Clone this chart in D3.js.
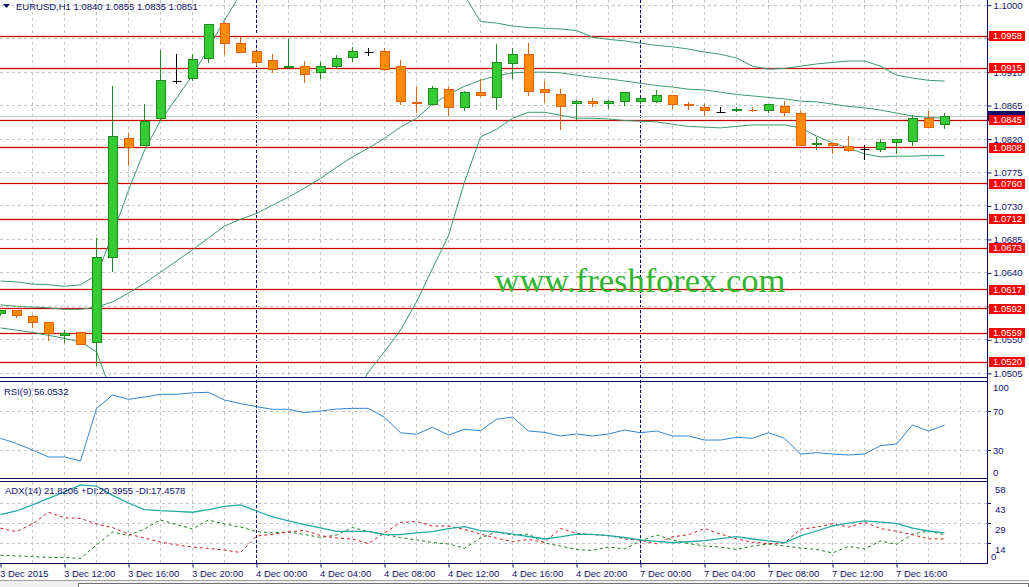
<!DOCTYPE html>
<html>
<head>
<meta charset="utf-8">
<script src="https://cdn.jsdelivr.net/npm/d3@7"></script>
<style>
html, body { margin: 0; padding: 0; background: #fff; overflow: hidden; }
svg { display: block; font-family: "Liberation Sans", Arial, sans-serif; }
</style>
</head>
<body>
<script>
// EURUSD H1 chart: candles + bollinger bands, RSI(9) and ADX(14) panes

(function(){

//bars from 3 Dec 08:00 to 7 Dec 19:00 (one per hour)
var openP = [1.0585,1.0589,1.0581,1.0573,1.0556,1.0560,1.0546,1.0661,1.0821,1.0812,
    1.0847,1.0898,1.0901,1.0929,1.0976,1.0949,1.0938,1.0926,1.0916,1.0918,
    1.0909,1.0917,1.0930,1.0937,1.0938,1.0917,1.0869,1.0867,1.0887,1.0863,
    1.0883,1.0876,1.0922,1.0934,1.0887,1.0880,1.0868,1.0871,1.0868,1.0871,
    1.0870,1.0871,1.0879,1.0867,1.0863,1.0856,1.0858,1.0859,1.0858,1.0864,
    1.0855,1.0813,1.0814,1.0810,1.0806,1.0806,1.0815,1.0817,1.0848,1.0840];
var highP = [1.0590,1.0589,1.0583,1.0574,1.0563,1.0560,1.0687,1.0891,1.0828,1.0867,
    1.0940,1.0934,1.0934,1.0974,1.0978,1.0957,1.0938,1.0935,1.0954,1.0925,
    1.0923,1.0933,1.0944,1.0942,1.0942,1.0926,1.0890,1.0892,1.0890,1.0884,
    1.0901,1.0948,1.0942,1.0949,1.0898,1.0887,1.0872,1.0875,1.0872,1.0883,
    1.0875,1.0886,1.0879,1.0870,1.0867,1.0863,1.0863,1.0863,1.0867,1.0871,
    1.0858,1.0823,1.0815,1.0824,1.0812,1.0820,1.0820,1.0852,1.0858,1.0855];
var lowP = [1.0583,1.0581,1.0567,1.0550,1.0547,1.0544,1.0516,1.0642,1.0785,1.0812,
    1.0845,1.0895,1.0899,1.0923,1.0935,1.0937,1.0919,1.0910,1.0916,1.0897,
    1.0902,1.0916,1.0925,1.0933,1.0913,1.0867,1.0856,1.0867,1.0852,1.0859,
    1.0878,1.0860,1.0902,1.0879,1.0870,1.0833,1.0847,1.0864,1.0862,1.0866,
    1.0868,1.0870,1.0862,1.0860,1.0852,1.0856,1.0858,1.0858,1.0856,1.0852,
    1.0812,1.0806,1.0801,1.0804,1.0793,1.0804,1.0801,1.0812,1.0836,1.0835];
var closeP = [1.0589,1.0583,1.0573,1.0558,1.0559,1.0544,1.0661,1.0823,1.0809,1.0844,
    1.0899,1.0898,1.0927,1.0974,1.0948,1.0937,1.0923,1.0914,1.0918,1.0907,
    1.0918,1.0929,1.0938,1.0937,1.0914,1.0871,1.0868,1.0888,1.0863,1.0883,
    1.0878,1.0923,1.0934,1.0884,1.0882,1.0864,1.0871,1.0868,1.0871,1.0882,
    1.0874,1.0879,1.0866,1.0865,1.0858,1.0856,1.0860,1.0858,1.0866,1.0856,
    1.0812,1.0814,1.0812,1.0804,1.0806,1.0816,1.0819,1.0847,1.0836,1.0851];

//bollinger bands
var bbUpper = [1.0629,1.0628,1.0625,1.0624,1.0622,1.0624,1.0637,1.0691,1.0751,1.0805,
    1.0845,1.0875,1.0906,1.0942,1.0980,1.1015,1.1030,1.1040,1.1046,1.1050,
    1.1052,1.1053,1.1054,1.1052,1.1050,1.1048,1.1044,1.1038,1.1028,1.1013,
    1.0978,1.0976,1.0972,1.0970,1.0969,1.0968,1.0966,1.0957,1.0954,1.0952,
    1.0949,1.0946,1.0944,1.0941,1.0937,1.0934,1.0929,1.0918,1.0914,1.0915,
    1.0918,1.0921,1.0923,1.0925,1.0925,1.0918,1.0906,1.0902,1.0899,1.0898];
var bbMiddle = [1.0597,1.0595,1.0594,1.0593,1.0591,1.0591,1.0594,1.0601,1.0613,1.0626,
    1.0641,1.0656,1.0671,1.0687,1.0703,1.0712,1.0720,1.0731,1.0742,1.0754,
    1.0767,1.0782,1.0796,1.0808,1.0821,1.0836,1.0848,1.0867,1.0880,1.0891,
    1.0899,1.0905,1.0909,1.0910,1.0910,1.0909,1.0906,1.0903,1.0901,1.0898,
    1.0895,1.0892,1.0890,1.0887,1.0886,1.0883,1.0880,1.0878,1.0876,1.0874,
    1.0871,1.0870,1.0867,1.0864,1.0862,1.0859,1.0855,1.0851,1.0849,1.0848];
var bbLower = [1.0566,1.0563,1.0560,1.0556,1.0552,1.0547,1.0534,1.0476,1.0429,1.0388,
    1.0348,1.0321,1.0294,1.0274,1.0261,1.0261,1.0267,1.0281,1.0301,1.0328,
    1.0362,1.0402,1.0469,1.0507,1.0534,1.0563,1.0601,1.0646,1.0690,1.0762,
    1.0823,1.0833,1.0848,1.0856,1.0856,1.0852,1.0848,1.0848,1.0847,1.0845,
    1.0844,1.0843,1.0840,1.0837,1.0836,1.0835,1.0837,1.0839,1.0839,1.0839,
    1.0835,1.0824,1.0815,1.0808,1.0800,1.0796,1.0797,1.0797,1.0798,1.0798];

//RSI(9)
var rsi = [42.4,37.0,30.2,22.9,22.9,18.8,73.4,87.5,83.0,85.4,
    88.2,88.2,89.8,90.3,82.3,78.6,75.3,72.6,72.6,69.1,
    70.8,72.9,73.6,73.6,64.3,48.2,46.6,53.9,45.8,51.8,
    50.3,62.2,64.5,50.0,48.6,44.8,46.9,44.8,46.9,51.0,
    48.2,50.0,44.8,44.8,40.6,40.6,43.4,42.4,48.2,42.4,
    26.0,27.4,26.0,25.0,26.0,34.7,36.5,56.3,50.0,56.05];

//ADX(14), +DI, -DI
var adx = [35.0,37.7,42.1,46.8,51.5,56.6,55.8,49.0,43.5,38.7,
    37.9,37.5,36.8,38.7,41.1,42.1,37.7,33.4,30.5,27.9,
    25.4,23.0,23.0,23.0,20.5,20.5,21.8,22.8,24.9,26.3,
    23.4,22.5,21.0,19.2,17.4,18.9,21.0,20.7,19.9,18.5,
    16.7,15.7,14.7,15.4,16.2,17.6,19.1,17.4,16.0,14.7,
    19.6,23.2,27.0,28.9,30.5,29.7,28.8,25.2,23.2,21.8];
var plusDI = [5.6,5.1,4.6,4.1,4.0,3.3,13.1,22.5,19.9,24.7,
    31.2,27.9,24.7,31.2,28.3,26.1,22.8,21.8,22.5,20.7,
    18.5,20.3,25.7,22.8,20.7,18.5,16.7,14.9,13.8,10.7,
    18.1,22.5,20.3,21.0,14.5,12.3,9.8,9.1,11.6,10.2,
    16.0,20.3,16.7,14.1,12.3,11.6,9.8,12.3,13.8,12.3,
    10.9,9.8,7.3,12.0,10.2,16.0,13.4,21.0,23.2,20.4];
var minusDI = [25.2,22.8,28.3,36.8,32.8,32.3,28.3,25.7,21.0,18.1,
    15.2,13.1,11.6,10.5,9.4,7.6,19.6,20.7,22.5,23.6,
    19.9,18.1,17.4,14.1,21.8,29.4,30.1,26.8,26.8,24.3,
    21.0,18.0,15.5,17.0,15.0,25.0,21.5,20.5,20.0,17.5,
    16.5,14.0,19.0,20.5,25.0,21.0,17.5,15.0,14.0,14.5,
    24.5,26.0,28.5,26.0,29.5,25.0,23.0,20.5,17.5,17.5];

//support / resistance levels drawn by hand
var levels = [1.0958, 1.0915, 1.0845, 1.0808, 1.0760, 1.0712, 1.0673, 1.0617, 1.0592, 1.0559, 1.0520];

//axis ticks
var priceTicks = [1.1000, 1.0955, 1.0910, 1.0865, 1.0820, 1.0775, 1.0730, 1.0685, 1.0640, 1.0595, 1.0550, 1.0505];
var timeTickBars = [0, 4, 8, 12, 16, 20, 24, 28, 32, 36, 40, 44, 48, 52, 56];
var timeLabels = ["3 Dec 2015", "3 Dec 12:00", "3 Dec 16:00", "3 Dec 20:00", "4 Dec 00:00", "4 Dec 04:00",
    "4 Dec 08:00", "4 Dec 12:00", "4 Dec 16:00", "4 Dec 20:00", "7 Dec 00:00", "7 Dec 04:00",
    "7 Dec 08:00", "7 Dec 12:00", "7 Dec 16:00"];
var daySepBars = [16, 40];
var rsiTicks = [100, 70, 30, 0];
var rsiLevels = [70, 30];
var adxTicks = [58, 43.5, 29, 14.5, 0];
var adxTickLabels = ["58", "43", "29", "14", "0"];

var symbol = "EURUSD,H1";
var rsiTitle = "RSI(9) 56.0532";
var adxTitle = "ADX(14) 21.8206 +DI:20.3955 -DI:17.4578";
var watermark = "www.freshforex.com";

//layout
var width = 1029, height = 587,
    axisX = 987,
    mainTop = 0, mainBot = 377,
    rsiTop = 382, rsiBot = 478,
    adxTop = 482, adxBot = 563;

var navy = "#12126e",
    gridCol = "#c4c4c4",
    fontSize = "9.5px";

var svg = d3.select("body").append("svg")
    .attr("width", width)
    .attr("height", height);

//scales
var x = d3.scaleLinear().domain([0, 1]).range([0.5, 16.5]);
var y = d3.scaleLinear().domain([1.0500, 1.1007]).range([mainBot, mainTop]);
var yRsi = d3.scaleLinear().domain([0, 100]).range([479, 383]);
var yAdx = d3.scaleLinear().domain([0, 58]).range([563, 483]);

//snap to pixel centres
function px(v){ return Math.floor(v) + 0.5; }

svg.append("defs").append("clipPath").attr("id", "mainClip")
    .append("rect").attr("x", 0).attr("y", mainTop).attr("width", axisX).attr("height", mainBot - mainTop);

//grid
var grid = svg.append("g").attr("class", "grid")
    .attr("stroke", gridCol).attr("stroke-dasharray", "3,3").attr("fill", "none");

var vgrid = d3.range(2, 62, 2).filter(function(i){ return x(i) < axisX; });
[[mainTop, mainBot], [rsiTop, rsiBot], [adxTop, adxBot]].forEach(function(p){
    grid.selectAll(null).data(vgrid).enter().append("line")
        .attr("x1", function(d){ return px(x(d)); })
        .attr("x2", function(d){ return px(x(d)); })
        .attr("y1", p[0]).attr("y2", p[1]);
});
grid.selectAll(null).data(priceTicks).enter().append("line")
    .attr("x1", 0).attr("x2", axisX)
    .attr("y1", function(d){ return px(y(d)); })
    .attr("y2", function(d){ return px(y(d)); });
grid.selectAll(null).data(rsiLevels).enter().append("line")
    .attr("x1", 0).attr("x2", axisX)
    .attr("y1", function(d){ return px(yRsi(d)); })
    .attr("y2", function(d){ return px(yRsi(d)); });
grid.selectAll(null).data(adxTicks.slice(1, 4)).enter().append("line")
    .attr("x1", 0).attr("x2", axisX)
    .attr("y1", function(d){ return px(yAdx(d)); })
    .attr("y2", function(d){ return px(yAdx(d)); });

//day separators
svg.append("g").selectAll("line").data(daySepBars).enter().append("line")
    .attr("x1", function(d){ return px(x(d)); })
    .attr("x2", function(d){ return px(x(d)); })
    .attr("y1", 0).attr("y2", adxBot)
    .attr("stroke", "#0a0a80")
    .attr("stroke-dasharray", "3,2");

var mainG = svg.append("g").attr("clip-path", "url(#mainClip)");

//bid line
var lastClose = closeP[closeP.length - 1];
mainG.append("line")
    .attr("x1", 0).attr("x2", axisX)
    .attr("y1", px(y(lastClose))).attr("y2", px(y(lastClose)))
    .attr("stroke", "#c8c8c8");

//horizontal levels
var lv = mainG.append("g").selectAll("g").data(levels).enter().append("g");
lv.append("line")
    .attr("x1", 0).attr("x2", axisX)
    .attr("y1", function(d){ return px(y(d)); })
    .attr("y2", function(d){ return px(y(d)); })
    .attr("stroke", "#ffdcdc").attr("stroke-width", 3);
lv.append("line")
    .attr("x1", 0).attr("x2", axisX)
    .attr("y1", function(d){ return px(y(d)); })
    .attr("y2", function(d){ return px(y(d)); })
    .attr("stroke", "#c40000");

//bollinger bands
var bandLine = d3.line()
    .x(function(d, i){ return x(i); })
    .y(function(d){ return y(d); });
mainG.selectAll(".band").data([bbUpper, bbMiddle, bbLower]).enter().append("path")
    .attr("class", "band")
    .attr("d", bandLine)
    .attr("fill", "none")
    .attr("stroke", "#3a9a6c")
    .attr("stroke-width", 1);

//candles
function barColor(i){
    if (openP[i] == closeP[i]) return "#000";
    return closeP[i] > openP[i] ? "#1f8a1f" : "#e8620c";
}
var bars = mainG.selectAll(".bar").data(d3.range(openP.length)).enter().append("g")
    .attr("class", "bar");
bars.append("line")
    .attr("x1", function(i){ return px(x(i)); })
    .attr("x2", function(i){ return px(x(i)); })
    .attr("y1", function(i){ return Math.round(y(highP[i])); })
    .attr("y2", function(i){ return Math.round(y(lowP[i])) + 1; })
    .attr("stroke", barColor);
bars.each(function(i){
    var g = d3.select(this),
        cx = px(x(i)),
        yo = px(y(openP[i])),
        yc = px(y(closeP[i])),
        top = Math.min(yo, yc),
        h = Math.abs(yo - yc);
    if (h < 1){
        g.append("line")
            .attr("x1", cx - 4).attr("x2", cx + 5)
            .attr("y1", top).attr("y2", top)
            .attr("stroke", barColor(i));
    } else {
        g.append("rect")
            .attr("x", cx - 4).attr("y", top)
            .attr("width", 9).attr("height", h)
            .attr("fill", closeP[i] > openP[i] ? "#33cc33" : "#ff8c00")
            .attr("stroke", barColor(i));
    }
});

//watermark
svg.append("text")
    .attr("x", 640).attr("y", 292)
    .attr("text-anchor", "middle")
    .attr("font-family", "'Liberation Serif', 'Times New Roman', serif")
    .attr("font-size", "34.5px")
    .attr("fill", "#2db52d")
    .text(watermark);

//RSI pane
var rsiLine = d3.line()
    .x(function(d, i){ return x(i); })
    .y(function(d){ return yRsi(d); });
svg.append("path").datum(rsi)
    .attr("d", rsiLine)
    .attr("fill", "none")
    .attr("stroke", "#2f86cf");

//ADX pane
var adxLine = d3.line()
    .x(function(d, i){ return x(i); })
    .y(function(d){ return yAdx(d); });
svg.append("path").datum(plusDI)
    .attr("d", adxLine).attr("fill", "none")
    .attr("stroke", "#1c7a1c").attr("stroke-dasharray", "3,3");
svg.append("path").datum(minusDI)
    .attr("d", adxLine).attr("fill", "none")
    .attr("stroke", "#d01c1c").attr("stroke-dasharray", "3,3");
svg.append("path").datum(adx)
    .attr("d", adxLine).attr("fill", "none")
    .attr("stroke", "#22aaa4").attr("stroke-width", 1.3);

//pane frames
var frame = svg.append("g").attr("stroke", "#0c0c5c").attr("fill", "none");
[mainBot + 0.5, rsiTop - 0.5, rsiBot + 0.5, adxTop - 0.5, adxBot + 0.5].forEach(function(yy){
    frame.append("line").attr("x1", 0).attr("x2", axisX + 1).attr("y1", yy).attr("y2", yy);
});
frame.append("line").attr("x1", axisX + 0.5).attr("x2", axisX + 0.5).attr("y1", 0).attr("y2", adxBot + 1);

//price axis; labels sitting right under a level box are not drawn (covered in the original)
function coveredByLevel(v){
    return levels.some(function(l){ return Math.abs(y(l) - y(v)) < 3; });
}
var priceAxis = d3.axisRight(y)
    .tickValues(priceTicks)
    .tickSize(4)
    .tickPadding(2)
    .tickFormat(function(d){ return coveredByLevel(d) ? "" : d3.format(".4f")(d); });
var pa = svg.append("g")
    .attr("transform", "translate(" + (axisX + 0.5) + ",0)")
    .call(priceAxis);
pa.select(".domain").remove();
pa.selectAll(".tick line").attr("stroke", navy);
pa.selectAll(".tick text").attr("fill", navy).attr("font-size", fontSize).attr("font-family", null);

//current price box (mostly under the 1.0845 label), then the level labels
svg.append("rect")
    .attr("x", 988).attr("y", Math.round(y(lastClose)) - 5)
    .attr("width", 37).attr("height", 10)
    .attr("fill", "#0a0a66");

var ll = svg.append("g").selectAll("g").data(levels).enter().append("g")
    .attr("transform", function(d){ return "translate(989," + Math.round(y(d)) + ")"; });
ll.append("rect").attr("x", 0).attr("y", -5).attr("width", 36).attr("height", 10).attr("fill", "#ff0000");
ll.append("text").attr("x", 4).attr("y", 0).attr("dy", "0.35em")
    .attr("fill", "#fff").attr("font-size", fontSize)
    .text(function(d){ return d3.format(".4f")(d); });

//RSI axis labels
var ra = svg.append("g");
ra.selectAll("line").data(rsiTicks.slice(1, 3)).enter().append("line")
    .attr("x1", axisX).attr("x2", axisX + 4)
    .attr("y1", function(d){ return px(yRsi(d)); })
    .attr("y2", function(d){ return px(yRsi(d)); })
    .attr("stroke", navy);
ra.selectAll("text").data(rsiTicks).enter().append("text")
    .attr("x", 993)
    .attr("y", function(d){ return Math.max(388, Math.min(473, yRsi(d))); })
    .attr("dy", "0.35em")
    .attr("fill", navy).attr("font-size", fontSize)
    .text(function(d){ return d; });

//ADX axis labels
var aa = svg.append("g");
aa.selectAll("line").data(adxTicks.slice(1, 4)).enter().append("line")
    .attr("x1", axisX).attr("x2", axisX + 4)
    .attr("y1", function(d){ return px(yAdx(d)); })
    .attr("y2", function(d){ return px(yAdx(d)); })
    .attr("stroke", navy);
aa.selectAll("text").data(adxTicks).enter().append("text")
    .attr("x", function(d, i){ return i == adxTicks.length - 1 ? 991 : 995; })
    .attr("y", function(d){ return Math.max(488, Math.min(557, yAdx(d) + 7)); })
    .attr("dy", "0.35em")
    .attr("fill", navy).attr("font-size", fontSize)
    .text(function(d, i){ return adxTickLabels[i]; });

//time axis
var timeAxis = d3.axisBottom(x)
    .tickValues(timeTickBars)
    .tickSize(4)
    .tickPadding(3)
    .tickFormat(function(d, i){ return timeLabels[i]; });
var ta = svg.append("g")
    .attr("transform", "translate(0," + (adxBot + 0.5) + ")")
    .call(timeAxis);
ta.select(".domain").remove();
ta.selectAll(".tick line").attr("stroke", navy);
ta.selectAll(".tick text")
    .attr("text-anchor", "start")
    .attr("x", -1)
    .attr("fill", navy).attr("font-size", fontSize).attr("font-family", null);

//pane titles
var hdr = svg.append("g").attr("fill", navy).attr("font-size", fontSize);
hdr.append("path").attr("d", "M3,4L10,4L6.5,8Z").attr("fill", "#0a0a66");
hdr.append("text").attr("x", 16).attr("y", 9.5)
    .text(symbol + "  " + [openP, highP, lowP, closeP].map(function(a){
        return d3.format(".4f")(a[a.length - 1]);
    }).join(" "));
hdr.append("text").attr("x", 4).attr("y", 394.5).text(rsiTitle);
hdr.append("text").attr("x", 5).attr("y", 494).text(adxTitle);

//bottom strip under the chart
svg.append("rect").attr("x", 0).attr("y", 581).attr("width", width).attr("height", 6).attr("fill", "#f0f0f0");
svg.append("line").attr("x1", 0).attr("x2", width).attr("y1", 580.5).attr("y2", 580.5).attr("stroke", "#a0a0a0");
svg.append("rect").attr("x", 78.5).attr("y", 583.5).attr("width", width - 79).attr("height", 6)
    .attr("fill", "#fff").attr("stroke", "#707070");

})();
</script>
</body>
</html>
